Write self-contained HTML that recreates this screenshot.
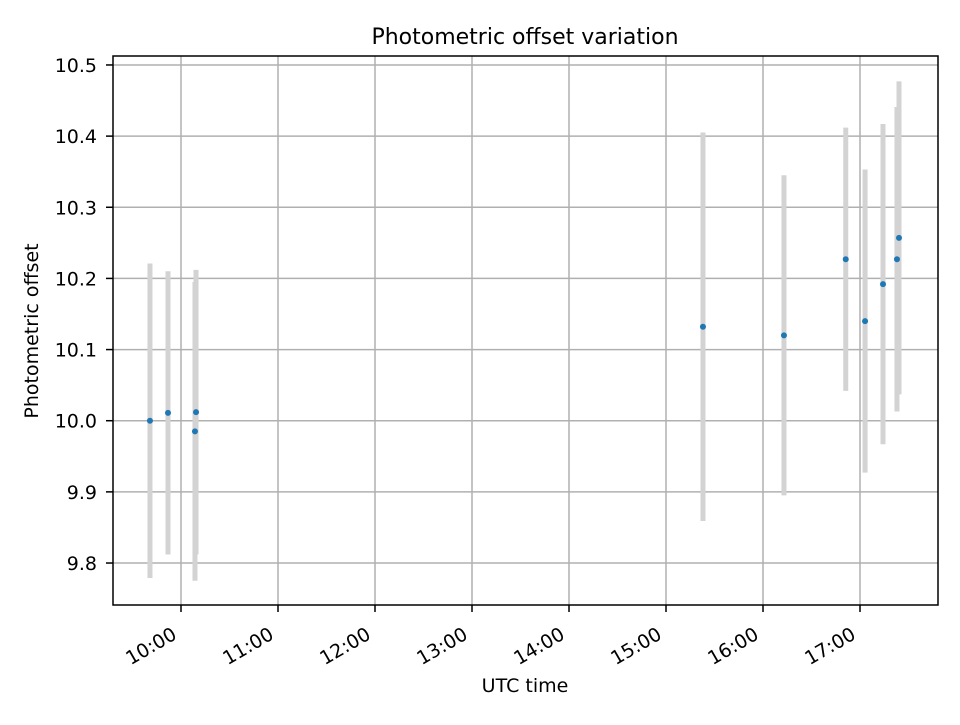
<!DOCTYPE html>
<html><head><meta charset="utf-8"><style>
body{margin:0;background:#fff}
svg text{font-family:"DejaVu Sans","Liberation Sans",sans-serif;fill:#000}
</style></head><body>
<svg id="chart" width="960" height="720">
<rect width="960" height="720" fill="#fff"/>
<g id="grid"></g><g id="bars"></g><g id="pts"></g><g id="axes"></g>
<text x="525" y="44" font-size="22" text-anchor="middle">Photometric offset variation</text>
<text x="525" y="692" font-size="19" text-anchor="middle">UTC time</text>
<text transform="translate(38,331) rotate(-90)" font-size="19" text-anchor="middle">Photometric offset</text>
</svg>
<script>
const times=[9.680,9.866,10.155,10.144,15.381,16.216,16.853,17.052,17.237,17.381,17.402];
const offsets=[10.000,10.011,10.012,9.985,10.132,10.120,10.227,10.140,10.192,10.227,10.257];
const errors=[0.221,0.199,0.200,0.210,0.273,0.225,0.185,0.213,0.225,0.214,0.220];
const yTicks=[9.8,9.9,10.0,10.1,10.2,10.3,10.4,10.5];
const xTicks=[10,11,12,13,14,15,16,17];
const xTickLabels=["10:00","11:00","12:00","13:00","14:00","15:00","16:00","17:00"];
const L=113,R=938,T=56,B=605,x0=9.299,x1=17.804,y0=9.741,y1=10.5126;
const X=v=>L+(v-x0)/(x1-x0)*(R-L), Y=v=>B-(v-y0)/(y1-y0)*(B-T);
const NS="http://www.w3.org/2000/svg";
function mk(p,t,a){const e=document.createElementNS(NS,t);for(const k in a)e.setAttribute(k,a[k]);document.getElementById(p).appendChild(e);return e;}
yTicks.forEach((v,i)=>{
 const g=mk('grid','line',{x1:L,x2:R,y1:Y(v),y2:Y(v),stroke:'#b0b0b0','stroke-width':1.5});
 
 
 const t=mk('axes','line',{x1:L-7,x2:L,y1:Y(v),y2:Y(v),stroke:'#000','stroke-width':1.5});
 
 
 const l=mk('axes','text',{x:L-16,y:Y(v)+7,'font-size':19,'text-anchor':'end'});
 l.textContent=v.toFixed(1);
 
 
});
xTicks.forEach((v,i)=>{
 const g=mk('grid','line',{x1:X(v),x2:X(v),y1:T,y2:B,stroke:'#b0b0b0','stroke-width':1.5});
 
 
 const t=mk('axes','line',{x1:X(v),x2:X(v),y1:B,y2:B+7,stroke:'#000','stroke-width':1.5});
 
 
 const l=mk('axes','text',{transform:`translate(${X(v)-3},${B+33}) rotate(-30)`,'font-size':19,'text-anchor':'end'});
 l.textContent=xTickLabels[i];
 
 
});
times.forEach((t,i)=>{
 const b=mk('bars','line',{x1:X(t),x2:X(t),y1:Y(offsets[i]+errors[i]),y2:Y(offsets[i]-errors[i]),stroke:'#d3d3d3','stroke-width':5});
 
 
 const p=mk('pts','circle',{cx:X(t),cy:Y(offsets[i]),r:3,fill:'#1f77b4'});
 
 
});
const f=mk('axes','rect',{x:L,y:T,width:R-L,height:B-T,fill:'none',stroke:'#000','stroke-width':1.5});


</script>
</body></html>
